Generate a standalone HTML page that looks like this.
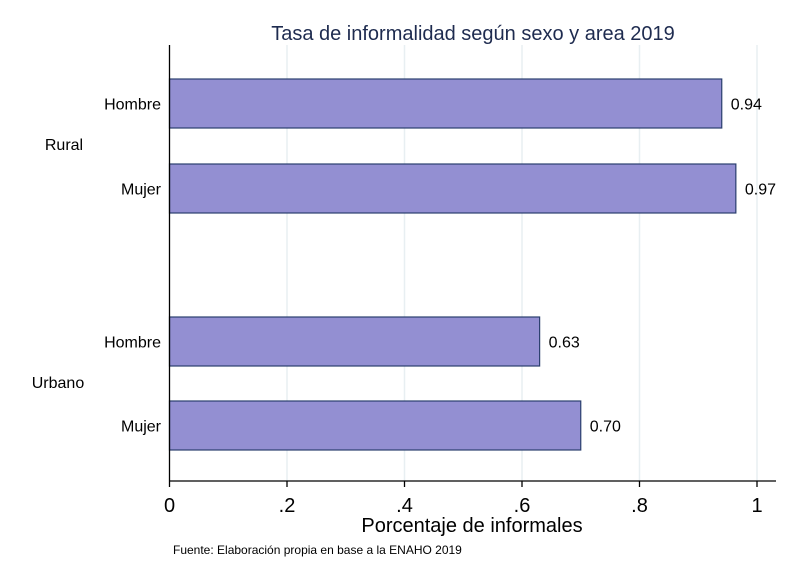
<!DOCTYPE html>
<html><head><meta charset="utf-8"><style>
body{margin:0;background:#fff;}
svg{display:block;font-family:"Liberation Sans",Arial,sans-serif;}
</style></head><body>
<svg id="chart" width="797" height="580" viewBox="0 0 797 580">
<rect width="797" height="580" fill="#fff"/>
<text x="473" y="40" text-anchor="middle" font-size="20" fill="#1e2b4f">Tasa de informalidad según sexo y area 2019</text>
<g id="grid"></g>
<g id="bars"></g>
<line x1="169.5" y1="45" x2="169.5" y2="481" stroke="#000" stroke-width="1.3"/>
<line x1="169.5" y1="481" x2="776" y2="481" stroke="#000" stroke-width="1.3"/>
<g id="xticks"></g>
<text x="472" y="532" text-anchor="middle" font-size="20" fill="#000">Porcentaje de informales</text>
<text x="173" y="554" font-size="12" fill="#000">Fuente: Elaboración propia en base a la ENAHO 2019</text>
<text x="64" y="150" text-anchor="middle" font-size="16" fill="#000">Rural</text>
<text x="58" y="388" text-anchor="middle" font-size="16" fill="#000">Urbano</text>
</svg>
<script>
const categories = ["Hombre","Mujer","Hombre","Mujer"];
const groups = ["Rural","Rural","Urbano","Urbano"];
const values = [0.94, 0.964, 0.63, 0.70];
const valueLabels = ["0.94","0.97","0.63","0.70"];
const tickValues = [0,0.2,0.4,0.6,0.8,1];
const tickLabels = ["0",".2",".4",".6",".8","1"];

const NS="http://www.w3.org/2000/svg";
const x0=169.5, scale=587.5;
function xs(v){return x0+v*scale;}
const barTops=[79,164,317,401], barH=49;
function mk(tag,attrs,parent){const e=document.createElementNS(NS,tag);for(const k in attrs)e.setAttribute(k,attrs[k]);parent.appendChild(e);return e;}
const grid=document.getElementById('grid'), bars=document.getElementById('bars'), xt=document.getElementById('xticks');
tickValues.forEach((t,i)=>{
  if(t>0){
    const g=mk('line',{x1:xs(t),x2:xs(t),y1:45,y2:481,stroke:'#e8eff2','stroke-width':1.5},grid);
    
    
  }
  const tk=mk('line',{x1:xs(t),x2:xs(t),y1:481,y2:487,stroke:'#000','stroke-width':1.3},xt);
  
  
  const tl=mk('text',{x:xs(t),y:512,'text-anchor':'middle','font-size':20,fill:'#000'},xt);
  tl.textContent=tickLabels[i];
  
  
});
values.forEach((v,i)=>{
  const y=barTops[i];
  const r=mk('rect',{x:x0,y:y,width:xs(v)-x0,height:barH,fill:'#938fd2',stroke:'#2b3f6e','stroke-width':1.2},bars);
  
  
  const vl=mk('text',{x:xs(v)+9,y:y+barH/2+6,'font-size':16,fill:'#000'},bars);
  vl.textContent=valueLabels[i];
  
  
  const cl=mk('text',{x:161,y:y+barH/2+6,'text-anchor':'end','font-size':16,fill:'#000'},bars);
  cl.textContent=categories[i];
  
  
});
</script>
</body></html>
